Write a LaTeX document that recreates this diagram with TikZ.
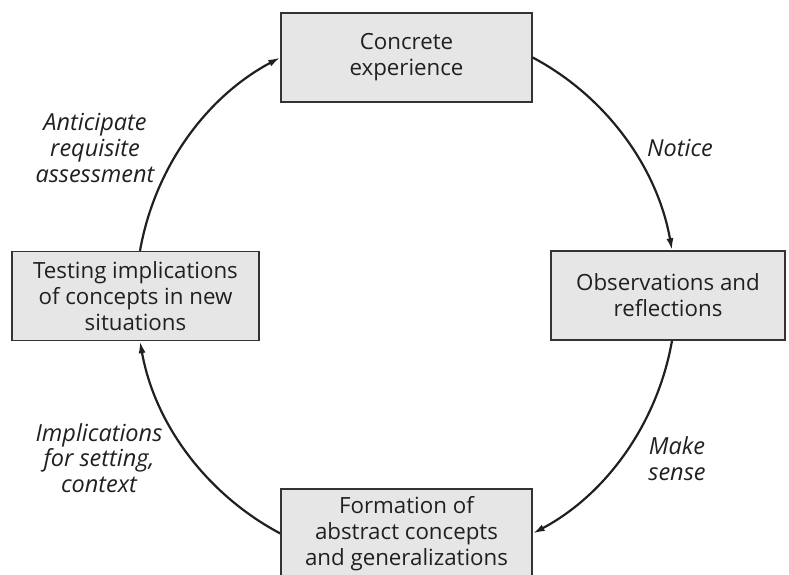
\documentclass[tikz,border=0pt]{standalone}
\usepackage{fontspec}
\setmainfont{Open Sans}
\usepackage{xcolor}
\usetikzlibrary{arrows.meta}
\definecolor{kolbFill}{HTML}{E6E6E6}
\definecolor{kolbGrey}{HTML}{333333}
\definecolor{kolbText}{HTML}{231F20}

\begin{document}
\begin{tikzpicture}[x=1pt,y=1pt]
    \pgfmathsetmacro{\h}{89}
    \tikzset{
        stage/.style={draw=kolbGrey,fill=kolbFill,line width=1.4pt,inner sep=0pt,
            minimum height=\h pt,align=center,text=kolbText,
            font=\fontsize{22.3}{26}\selectfont},
        phase/.style={align=center,text=kolbText,
            font=\fontsize{23.5}{25.8}\selectfont\itshape},
        cyc/.style={line width=2.2pt,draw=kolbText,
            -{Latex[length=12pt,width=7pt]},looseness=0.9}
    }
    \useasboundingbox (0,0) rectangle (789,574);
    \begin{scope}
        \clip (0,0) rectangle (789,574);
        \node[stage,minimum width=251pt] (conc) at (406.5,516.5) {Concrete\\experience};
        \node[stage,minimum width=234pt] (obs) at (668,278.5) {Observations and\\reflections};
        \node[stage,minimum width=247pt] (test) at (135.5,278) {Testing implications\\of concepts in new\\situations};
        \node[stage,minimum width=251pt] (form) at (406.5,40.5) {Formation of\\abstract concepts\\and generalizations};
    \end{scope}
    \node[phase] (notice) at (680,426) {Notice};
    \node[phase] (sense) at (677,115) {Make\\sense};
    \node[phase] (impl) at (99,116) {Implications\\for setting,\\context};
    \node[phase] (antic) at (95,426) {Anticipate\\requisite\\assessment};
    \draw[cyc] (conc.east) to[out=-28,in=100] ([xshift=4pt]obs.north);
    \draw[cyc] ([xshift=4pt]obs.south) to[out=-100,in=28] (form.east);
    \draw[cyc] (form.west) to[out=152,in=-80] ([xshift=4.5pt]test.south);
    \draw[cyc] ([xshift=4.5pt]test.north) to[out=80,in=208] (conc.west);
\end{tikzpicture}
\end{document}
